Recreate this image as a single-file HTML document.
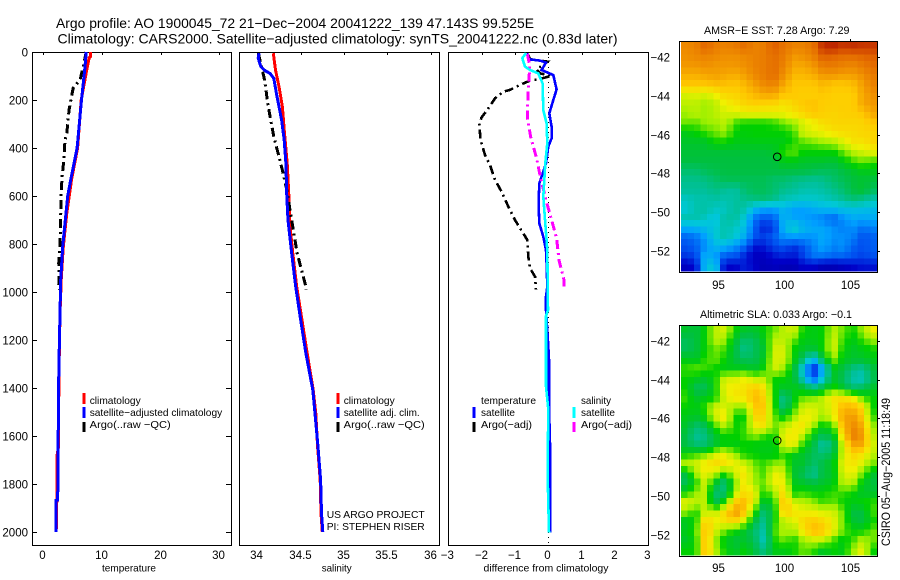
<!DOCTYPE html>
<html lang="en">
<head>
<meta charset="utf-8">
<title>Argo profile 1900045_72</title>
<style>
html,body{margin:0;padding:0;background:#fff;}
svg{display:block;font-family:"Liberation Sans",sans-serif;fill:#000;}
text{fill:#000;}
.t11{font-size:11.5px;}
.leg{font-size:10.5px;}
.ttl{font-size:14px;}
.mt{font-size:11px;}
</style>
</head>
<body>
<svg id="fig" xmlns="http://www.w3.org/2000/svg" width="900" height="580" viewBox="0 0 900 580">
  <rect x="0" y="0" width="900" height="580" fill="#fff"/>
  <text class="ttl" x="56" y="28" textLength="478" lengthAdjust="spacingAndGlyphs">Argo profile: AO 1900045_72 21−Dec−2004 20041222_139 47.143S 99.525E</text>
  <text class="ttl" x="57.5" y="43.5" textLength="560" lengthAdjust="spacingAndGlyphs">Climatology: CARS2000. Satellite−adjusted climatology: synTS_20041222.nc (0.83d later)</text>

  <g id="map1"></g>
  <g id="map2"></g>
  <g id="p1"></g>
  <g id="p2"></g>
  <g id="p3"></g>

  <text class="leg" x="102" y="571.5" textLength="54" lengthAdjust="spacingAndGlyphs">temperature</text>
  <text class="leg" x="321.7" y="571.5" textLength="30" lengthAdjust="spacingAndGlyphs">salinity</text>
  <text class="leg" x="483.5" y="571.5" textLength="125" lengthAdjust="spacingAndGlyphs">difference from climatology</text>

  <g>
    <rect x="82.5" y="393" width="3" height="11" fill="#f00"/>
    <rect x="82.5" y="407" width="3" height="11" fill="#00f"/>
    <rect x="82.5" y="422" width="3" height="10" fill="#000"/>
    <text class="leg" x="89.7" y="404" textLength="51" lengthAdjust="spacingAndGlyphs">climatology</text>
    <text class="leg" x="89.7" y="416" textLength="132.5" lengthAdjust="spacingAndGlyphs">satellite−adjusted climatology</text>
    <text class="leg" x="89.7" y="428" textLength="81" lengthAdjust="spacingAndGlyphs">Argo(..raw −QC)</text>
  </g>
  <g>
    <rect x="336.5" y="393" width="3" height="11" fill="#f00"/>
    <rect x="336.5" y="407" width="3" height="11" fill="#00f"/>
    <rect x="336.5" y="422" width="3" height="10" fill="#000"/>
    <text class="leg" x="343.7" y="404" textLength="51" lengthAdjust="spacingAndGlyphs">climatology</text>
    <text class="leg" x="343.7" y="416" textLength="76" lengthAdjust="spacingAndGlyphs">satellite adj. clim.</text>
    <text class="leg" x="343.7" y="428" textLength="81" lengthAdjust="spacingAndGlyphs">Argo(..raw −QC)</text>
    <text class="leg" x="326.7" y="518" textLength="98" lengthAdjust="spacingAndGlyphs">US ARGO PROJECT</text>
    <text class="leg" x="326.7" y="530" textLength="98" lengthAdjust="spacingAndGlyphs">PI: STEPHEN RISER</text>
  </g>
  <g>
    <text class="leg" x="481" y="404" textLength="55" lengthAdjust="spacingAndGlyphs">temperature</text>
    <rect x="472.5" y="407" width="3" height="11" fill="#00f"/>
    <text class="leg" x="481" y="416" textLength="34" lengthAdjust="spacingAndGlyphs">satellite</text>
    <rect x="472.5" y="422" width="3" height="10" fill="#000"/>
    <text class="leg" x="481" y="428" textLength="51" lengthAdjust="spacingAndGlyphs">Argo(−adj)</text>
    <text class="leg" x="581" y="404" textLength="30" lengthAdjust="spacingAndGlyphs">salinity</text>
    <rect x="572.5" y="407" width="3" height="11" fill="#0ff"/>
    <text class="leg" x="581" y="416" textLength="34" lengthAdjust="spacingAndGlyphs">satellite</text>
    <rect x="572.5" y="422" width="3" height="10" fill="#f0f"/>
    <text class="leg" x="581" y="428" textLength="51" lengthAdjust="spacingAndGlyphs">Argo(−adj)</text>
  </g>

  <text class="mt" x="704" y="34" textLength="145.5" lengthAdjust="spacingAndGlyphs">AMSR−E SST: 7.28 Argo: 7.29</text>
  <text class="mt" x="700" y="318" textLength="152" lengthAdjust="spacingAndGlyphs">Altimetric SLA: 0.033 Argo: −0.1</text>
  <text class="t11" transform="translate(890 546) rotate(-90)" x="0" y="0" textLength="148" lengthAdjust="spacingAndGlyphs">CSIRO 05−Aug−2005 11:18:49</text>
</svg>

<script>
// ---- shared depth ticks ----
const depthTicks = [0,200,400,600,800,1000,1200,1400,1600,1800,2000];

// ---- temperature panel ----
const tempTicks = [0,10,20,30];
const tempClimDepth = [0,20,25,62,200,400,533,671,811,950,1089,1228,1367,1650,1680,1867,2000];
const tempClimValue = [8.0,8.0,7.8,7.5,6.45,5.85,4.8,4.0,3.4,3.05,2.85,2.75,2.65,2.55,2.35,2.3,2.2];
const tempSatDepth = [0,62,200,400,533,600,671,811,950,1089,1228,1367,1554,1750,1867,1868,2000];
const tempSatValue = [7.3,7.1,6.5,5.75,4.67,4.15,3.87,3.3,2.96,2.85,2.73,2.62,2.55,2.48,2.45,2.2,2.15];
const tempArgoDepth = [0,62,117,150,180,240,338,367,450,520,604,700,800,880,908,978,990];
const tempArgoValue = [7.3,6.8,6.25,5.1,4.85,4.4,4.0,3.7,3.5,3.2,3.0,2.96,2.85,2.62,2.7,2.62,2.85];

// ---- salinity panel ----
const salTicks = [34,34.5,35,35.5,36];
const salTickLabels = ['34','34.5','35','35.5','36'];
const salClimDepth = [5,75,144,228,325,464,603,728,839,978,1117,1256,1408,1506,1645,1783,1922,2000];
const salClimValue = [34.185,34.21,34.25,34.29,34.31,34.345,34.365,34.377,34.41,34.455,34.515,34.575,34.645,34.675,34.695,34.725,34.735,34.75];
const salSatDepth = [5,26,61,78,89,110,172,228,283,367,464,603,700,839,978,1117,1256,1408,1506,1645,1783,1922,2000];
const salSatValue = [34.02,34.01,34.04,34.09,34.146,34.19,34.22,34.25,34.28,34.31,34.33,34.34,34.354,34.397,34.443,34.5,34.56,34.64,34.665,34.70,34.73,34.74,34.755];
const salArgoDepth = [5,61,110,158,214,283,353,422,492,575,658,728,839,908,978,990];
const salArgoValue = [34.01,34.05,34.08,34.10,34.12,34.155,34.19,34.24,34.29,34.34,34.377,34.41,34.46,34.51,34.56,34.56];

// ---- difference panel ----
const diffTicks = [-3,-2,-1,0,1,2,3];
const diffTickLabels = ['−3','−2','−1','0','1','2','3'];
const diffTempArgoDepth = [5,30,36,40,58,72,89,99,112,119,137,158,165,193,235,272,304,367,429,471,533,582,644,700,783,853,901,936,989];
const diffTempArgoValue = [-0.63,-0.55,-0.25,-0.03,-0.2,-0.35,-0.25,0.1,-0.25,-0.55,-0.85,-1.15,-1.35,-1.6,-1.8,-2.0,-2.07,-2.03,-1.9,-1.75,-1.6,-1.4,-1.2,-1.0,-0.63,-0.6,-0.55,-0.4,-0.37];
const diffTempSatDepth = [5,30,36,44,75,96,156,200,256,311,360,394,464,547,631,714,769,825,880,978,1019,1075,1228,1283,1478,1679,2003];
const diffTempSatValue = [-0.63,-0.6,-0.25,-0.07,-0.2,0.15,0.25,0.15,0.03,0.1,0.1,0,-0.07,-0.27,-0.29,-0.27,-0.15,-0.07,-0.05,-0.03,-0.07,-0.07,0,0.02,0.02,0.06,0.06];
const diffSalSatDepth = [5,26,61,75,89,131,242,297,381,464,603,714,825,1075,1100,1394,1490,1755,2003];
const diffSalSatValue = [-0.67,-0.78,-0.7,-0.55,-0.3,-0.17,-0.15,-0.05,-0.03,-0.09,-0.15,-0.09,-0.03,-0.01,-0.07,-0.07,0,-0.02,0.02];
const diffSalArgoDepth = [8,47,89,158,269,353,443,513,617,700,776,867,950,989];
const diffSalArgoValue = [-0.63,-0.57,-0.57,-0.6,-0.63,-0.53,-0.35,-0.25,-0.07,0.1,0.25,0.32,0.47,0.47];

// ---- maps ----
const lonTicks = [95,100,105];
const latTicks = [-42,-44,-46,-48,-50,-52];
const floatLon = 99.525;
const floatLat = -47.143;
const sstGrid = [
[86,87,91,88,87,88,90,87,88,92,89,87,87,89,97,98,96,97,96,96],
[85,86,87,86,85,85,86,87,88,90,88,84,85,87,92,91,90,90,91,92],
[84,84,85,84,84,84,85,87,88,90,87,82,82,84,88,88,87,86,88,90],
[81,81,82,83,82,81,83,86,88,90,85,80,80,81,84,84,83,83,85,88],
[78,78,78,79,79,78,80,83,86,87,82,78,78,78,80,78,78,79,83,87],
[70,71,70,72,76,76,78,80,82,82,78,78,77,77,78,77,77,77,82,85],
[68,68,66,68,72,74,76,77,76,76,74,76,78,79,77,77,77,77,82,84],
[66,68,66,68,70,70,72,72,72,72,72,74,76,78,77,76,77,77,78,82],
[64,63,66,66,68,62,60,60,60,61,64,66,70,72,75,76,76,76,76,78],
[58,60,62,64,66,60,59,60,60,60,60,62,70,71,72,74,75,75,76,76],
[56,56,56,60,60,58,58,58,58,58,58,61,63,64,66,67,70,74,74,76],
[55,55,55,55,55,55,55,55,55,56,62,64,60,60,60,60,64,68,70,72],
[54,54,54,54,54,54,54,54,54,54,58,58,56,56,56,55,58,62,64,62],
[50,50,52,53,54,54,54,54,54,54,54,54,54,53,52,52,54,56,58,58],
[47,47,48,50,52,52,52,52,52,50,50,48,47,46,47,50,52,54,55,54],
[46,46,46,48,46,45,50,52,52,50,47,46,44,44,45,47,50,54,56,52],
[42,44,44,45,44,45,47,48,49,47,43,42,41,41,42,44,46,49,47,44],
[40,44,45,42,42,46,44,36,32,32,36,32,32,34,36,36,38,38,38,37],
[44,44,42,38,45,45,40,26,22,24,36,33,32,30,28,24,30,34,33,34],
[34,35,37,40,44,42,37,24,16,20,36,42,36,34,33,30,28,30,26,28],
[24,26,32,40,44,40,34,22,20,24,30,30,30,30,34,30,30,28,22,24],
[22,24,30,36,34,30,24,14,15,20,22,18,22,28,33,28,30,24,22,24],
[18,20,36,32,22,22,16,10,10,14,16,14,20,26,26,24,24,22,20,22],
[10,14,38,40,12,12,16,12,8,10,8,8,12,12,8,8,10,12,14,14]
];
const slaGrid = [
[56,54,60,68,70,60,56,56,60,64,68,70,60,58,60,68,64,60,66,72],
[52,54,60,68,66,56,50,52,58,68,68,64,58,58,60,70,62,58,62,66],
[52,54,60,64,62,54,47,52,56,70,70,60,56,54,60,70,60,56,58,60],
[58,56,62,64,60,54,52,52,58,70,70,60,50,36,54,66,58,56,56,58],
[62,64,62,60,58,58,58,56,60,70,66,56,38,14,34,58,54,48,46,54],
[60,58,56,60,70,70,72,68,68,60,60,56,42,22,40,56,52,44,42,52],
[60,52,52,60,72,73,74,78,74,60,56,58,56,50,54,62,56,50,52,56],
[62,56,58,60,70,74,74,80,76,62,46,58,64,64,68,74,74,72,62,60],
[60,58,62,70,70,66,66,78,78,62,48,60,70,70,68,72,80,80,76,60],
[58,56,60,70,74,60,60,76,76,64,58,66,72,72,66,72,82,84,78,62],
[56,50,52,62,68,60,62,72,74,64,68,72,74,66,58,62,80,86,82,66],
[54,46,48,56,60,60,62,66,62,60,72,74,68,58,52,56,76,88,84,68],
[54,50,50,56,60,58,60,58,58,58,70,72,60,54,44,50,70,82,82,70],
[60,62,64,70,72,66,60,60,58,58,62,58,56,52,50,54,70,76,74,68],
[68,70,74,76,74,72,70,64,62,66,66,56,56,50,54,58,72,74,70,64],
[54,66,72,68,60,70,74,66,62,72,70,56,52,46,54,56,70,72,64,56],
[52,60,70,56,48,64,74,66,64,72,72,58,56,54,56,58,68,68,58,54],
[60,66,68,50,50,68,76,72,60,66,76,60,62,60,60,62,62,60,56,56],
[72,68,68,52,62,78,80,70,54,60,80,70,68,66,62,64,60,58,60,62],
[66,60,70,68,76,84,78,62,48,58,78,74,72,72,70,70,64,54,54,62],
[56,60,78,72,74,76,68,54,46,60,68,70,76,78,76,72,64,56,54,60],
[58,62,80,70,64,60,56,50,44,62,68,66,74,80,78,72,64,60,60,64],
[56,60,80,66,58,54,56,52,42,60,64,60,66,68,68,62,58,62,68,64],
[60,60,80,68,60,56,60,54,48,58,58,60,64,62,56,60,58,66,72,60]
];

const NS = 'http://www.w3.org/2000/svg';
function mk(parent, tag, name, attrs){
  const el = document.createElementNS(NS, tag);
  
  
  for (const k in attrs) el.setAttribute(k, attrs[k]);
  parent.appendChild(el);
  return el;
}
function label(parent, name, x, y, str, anchor){
  const el = mk(parent, 'text', name, {x:x, y:y, 'class':'t11', 'text-anchor':anchor});
  el.textContent = str;
  return el;
}

// axis geometry
const yDepth = d => 52 + 0.24 * d;
const xTemp = v => 43.3 + 5.87 * v;
const xSal = v => 257.3 + 86.7 * (v - 34);
const xDiff = v => 548.3 + 33.33 * v;

function frame(g, l, r, t, b){
  mk(g, 'rect', 'plot-frame', {x:l+0.5, y:t+0.5, width:r-l, height:b-t, fill:'none', stroke:'#000', 'stroke-width':1, 'shape-rendering':'crispEdges'});
}
function topTicks(g, ticks, xf, labels, by){
  ticks.forEach((v,i)=>{
    const x = Math.round(xf(v))+0.5;
    mk(g, 'line', 'x-tick', {x1:x, x2:x, y1:52, y2:55, stroke:'#000', 'shape-rendering':'crispEdges'});
    label(g, 'x-tick-label', x-1, by, labels[i], 'middle');
  });
}
function series(g, name, xf, depth, vals, color, width, dash){
  const pts = depth.map((d,i)=> xf(vals[i]).toFixed(1)+','+yDepth(d).toFixed(1)).join(' ');
  const attrs = {points:pts, fill:'none', stroke:color, 'stroke-width':width, 'stroke-linejoin':'miter', 'shape-rendering':'crispEdges'};
  if (dash) attrs['stroke-dasharray'] = dash;
  mk(g, 'polyline', name, attrs);
}

const dashDot = '9 4 2 4';

// temperature panel
const p1 = document.getElementById('p1');
frame(p1, 32, 231, 52, 545);
topTicks(p1, tempTicks, xTemp, tempTicks.map(String), 559);
depthTicks.forEach(d=>{
  const y = Math.round(yDepth(d))+0.5;
  mk(p1, 'line', 'y-tick-left', {x1:32, x2:37, y1:y, y2:y, stroke:'#000', 'shape-rendering':'crispEdges'});
  mk(p1, 'line', 'y-tick-right', {x1:226, x2:231, y1:y, y2:y, stroke:'#000', 'shape-rendering':'crispEdges'});
  label(p1, 'y-tick-label', 28, y+4, String(d), 'end');
});
series(p1, 'temperature-climatology-line', xTemp, tempClimDepth, tempClimValue, '#f00', 3);
series(p1, 'temperature-argo-line', xTemp, tempArgoDepth, tempArgoValue, '#000', 3, dashDot);
series(p1, 'temperature-satellite-line', xTemp, tempSatDepth, tempSatValue, '#00f', 3);

// salinity panel
const p2 = document.getElementById('p2');
frame(p2, 239, 439, 52, 545);
topTicks(p2, salTicks, xSal, salTickLabels, 559);
series(p2, 'salinity-climatology-line', xSal, salClimDepth, salClimValue, '#f00', 3);
series(p2, 'salinity-argo-line', xSal, salArgoDepth, salArgoValue, '#000', 3, dashDot);
series(p2, 'salinity-satellite-line', xSal, salSatDepth, salSatValue, '#00f', 3);

// difference panel
const p3 = document.getElementById('p3');
frame(p3, 448, 648, 52, 545);
topTicks(p3, diffTicks.slice(1,-1), xDiff, diffTickLabels.slice(1,-1), 559);
label(p3, 'x-tick-label', xDiff(-3)-1, 559, diffTickLabels[0], 'middle');
label(p3, 'x-tick-label', xDiff(3)-1, 559, diffTickLabels[6], 'middle');
mk(p3, 'line', 'zero-reference-line', {x1:xDiff(0), x2:xDiff(0), y1:52, y2:545, stroke:'#000', 'stroke-dasharray':'1 4', 'shape-rendering':'crispEdges'});
series(p3, 'diff-temperature-argo-line', xDiff, diffTempArgoDepth, diffTempArgoValue, '#000', 2.6, dashDot);
series(p3, 'diff-temperature-satellite-line', xDiff, diffTempSatDepth, diffTempSatValue, '#00f', 2.6);
series(p3, 'diff-salinity-argo-line', xDiff, diffSalArgoDepth, diffSalArgoValue, '#f0f', 3, dashDot);
series(p3, 'diff-salinity-satellite-line', xDiff, diffSalSatDepth, diffSalSatValue, '#0ff', 2.6);

// colour map
const cmStops = [[0,[0,0,144]],[12,[0,0,200]],[22,[0,80,240]],[32,[0,160,255]],[40,[0,200,216]],[46,[0,192,152]],[54,[0,192,64]],[60,[0,208,0]],[66,[160,240,0]],[72,[240,240,0]],[78,[255,200,0]],[85,[240,144,0]],[92,[224,96,0]],[100,[176,16,0]]];
function colour(v){
  for (let i=1;i<cmStops.length;i++){
    if (v<=cmStops[i][0]){
      const a=cmStops[i-1], b=cmStops[i], t=(v-a[0])/(b[0]-a[0]);
      return 'rgb('+a[1].map((c,k)=>Math.round(c+(b[1][k]-c)*t)).join(',')+')';
    }
  }
  return 'rgb(176,16,0)';
}
// the source image has 30x36 pixels; resample the 20x24 reading onto that raster
const rasterCols = 30;
const rasterRows = 36;
function sample(grid, u, v){
  const R = grid.length, C = grid[0].length;
  const fx = Math.max(0, Math.min(C-1, u*C-0.5)), fy = Math.max(0, Math.min(R-1, v*R-0.5));
  const x0 = Math.floor(fx), y0 = Math.floor(fy);
  const x1 = Math.min(C-1, x0+1), y1 = Math.min(R-1, y0+1);
  const tx = fx-x0, ty = fy-y0;
  return (grid[y0][x0]*(1-tx)+grid[y0][x1]*tx)*(1-ty)+(grid[y1][x0]*(1-tx)+grid[y1][x1]*tx)*ty;
}

function drawMap(id, grid, top, bottom, lat42, labelY, cellName){
  const g = document.getElementById(id);
  const left = 680, right = 877;
  const xLon = lo => 784 + 13.2 * (lo - 100);
  const yLat = la => lat42 + 19.35 * (-42 - la);
  const imgL = 681, imgT = top+1, imgW = right-imgL, imgH = bottom-imgT-1;
  const cw = imgW/rasterCols, ch = imgH/rasterRows;
  for (let r=0;r<rasterRows;r++){
    for (let c=0;c<rasterCols;c++){
      const val = sample(grid, (c+0.5)/rasterCols, (r+0.5)/rasterRows);
      mk(g, 'rect', cellName, {x:(imgL+c*cw).toFixed(2), y:(imgT+r*ch).toFixed(2), width:(cw+0.3).toFixed(2), height:(ch+0.3).toFixed(2), fill:colour(val), 'shape-rendering':'crispEdges'});
    }
  }
  mk(g, 'rect', 'map-frame', {x:left-0.5, y:top+0.5, width:right-left+1, height:bottom-top, fill:'none', stroke:'#000', 'shape-rendering':'crispEdges'});
  lonTicks.forEach(lo=>{
    const x = Math.round(xLon(lo))+0.5;
    mk(g, 'line', 'longitude-tick', {x1:x, x2:x, y1:top-2, y2:top+1, stroke:'#000', 'shape-rendering':'crispEdges'});
    label(g, 'longitude-label', x, labelY, String(lo), 'middle');
  });
  latTicks.forEach(la=>{
    const y = Math.round(yLat(la))+0.5;
    mk(g, 'line', 'latitude-tick', {x1:right, x2:right+3, y1:y, y2:y, stroke:'#000', 'shape-rendering':'crispEdges'});
    label(g, 'latitude-label', 670, y+4, '−'+Math.abs(la), 'end');
  });
  mk(g, 'circle', 'float-position-marker', {cx:xLon(floatLon)-0.5, cy:yLat(floatLat), r:3.8, fill:'none', stroke:'#000', 'stroke-width':1});
}
drawMap('map1', sstGrid, 41, 272, 57.3, 289, 'sst-heatmap-cell');
drawMap('map2', slaGrid, 325, 556, 341, 572, 'sla-heatmap-cell');
</script>
</body>
</html>
